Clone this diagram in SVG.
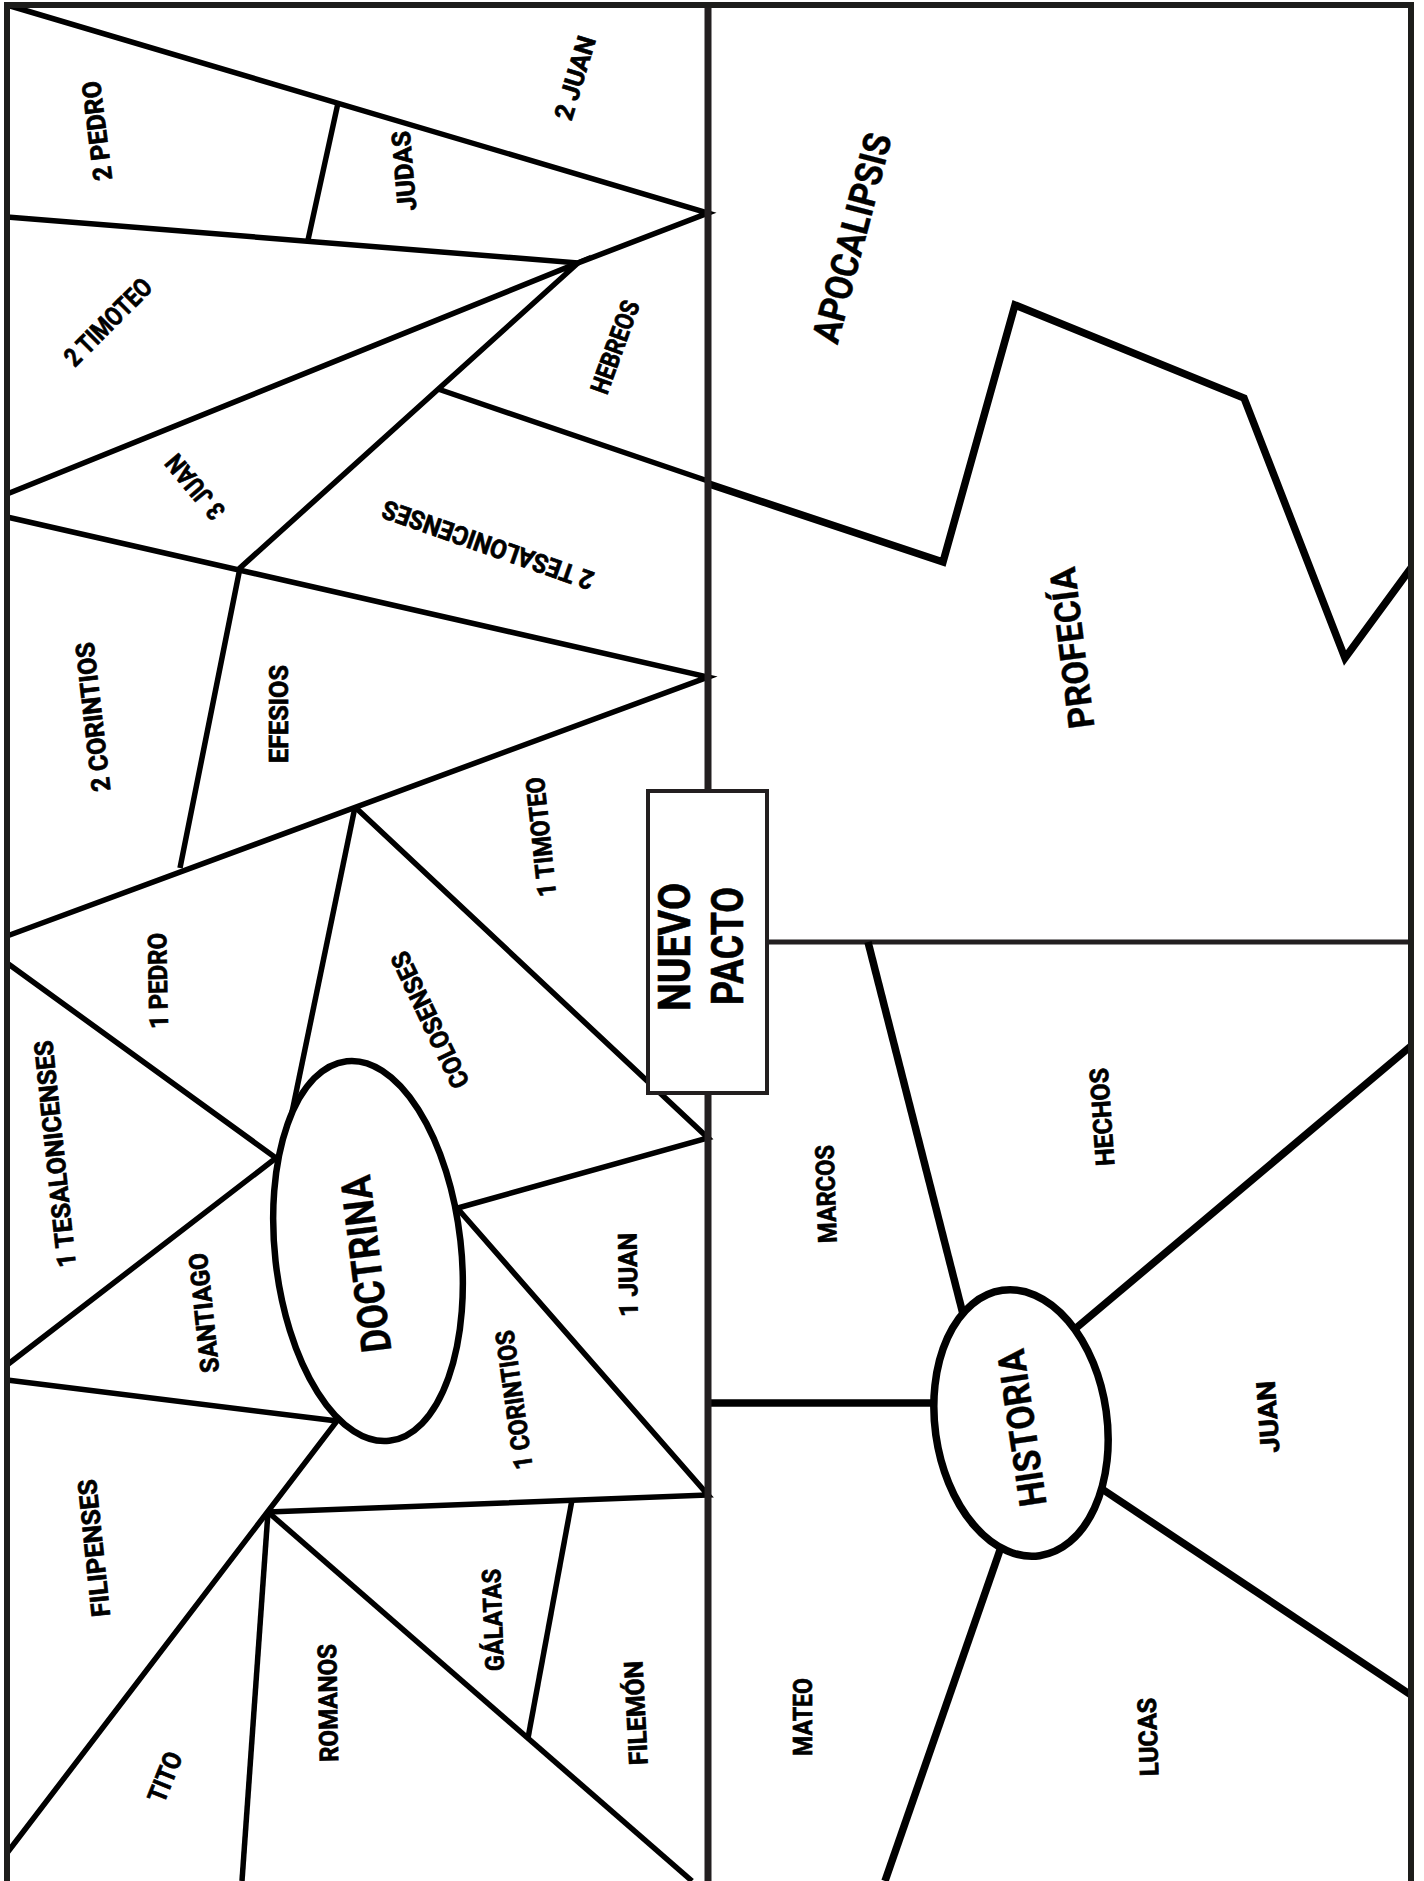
<svg xmlns="http://www.w3.org/2000/svg" width="1424" height="1881" viewBox="0 0 1424 1881">
<style>
.ln{stroke:#000;stroke-width:5.5;fill:none;stroke-linejoin:miter;stroke-miterlimit:10}
.thk{stroke:#000;stroke-width:7.5;fill:none;stroke-linejoin:miter;stroke-miterlimit:10}
.frm{stroke:#1d1d1b;stroke-width:6;fill:none}
.mid{stroke:#231f20;stroke-width:7;fill:none}
.hz{stroke:#231f20;stroke-width:5;fill:none}
.lb{font-family:Roboto,'Liberation Sans','DejaVu Sans',sans-serif;font-weight:700;font-size:26px;fill:#000;stroke:#000;stroke-width:0.7;text-anchor:middle}
.bg{font-size:38px;stroke-width:0.4}
.np{font-size:45px;stroke-width:0.6}
.ov{fill:#fff;stroke:#000}
</style>
<rect width="1424" height="1881" fill="#fff"/>
<g id="connectors">
  <polyline class="ln" points="7,5 708,213 578,263 7,217"/>
  <line class="ln" x1="338" y1="103" x2="308" y2="240"/>
  <polyline class="ln" points="7,494 578,263 240,568 180,868"/>
  <line class="ln" x1="438" y1="389" x2="708" y2="481"/>
  <polyline class="ln" points="7,517 708,677 7,936"/>
  <line class="ln" x1="355" y1="807" x2="291" y2="1117"/>
  <polyline class="ln" points="355,807 708,1138 440,1213"/>
  <polyline class="ln" points="7,963 276,1158 7,1365"/>
  <polyline class="ln" points="7,1380 337,1421 7,1853"/>
  <polyline class="ln" points="444,1193 708,1495 268,1512"/>
  <line class="ln" x1="268" y1="1512" x2="242" y2="1881"/>
  <line class="ln" x1="268" y1="1512" x2="692" y2="1881"/>
  <line class="ln" x1="572" y1="1500" x2="528" y2="1738"/>
  <polyline class="thk" points="709,484 943,562 1015,305 1244,398 1345,658 1411,568"/>
  <line class="hz" x1="767" y1="942" x2="1411" y2="942"/>
  <line class="thk" x1="868" y1="942" x2="964" y2="1318"/>
  <line class="thk" x1="1050" y1="1350" x2="1411" y2="1046"/>
  <line class="thk" x1="708" y1="1403" x2="955" y2="1403"/>
  <line class="thk" x1="1090" y1="1481" x2="1411" y2="1695"/>
  <line class="thk" x1="1008" y1="1527" x2="885" y2="1881"/>
  <line class="mid" x1="708" y1="5" x2="708" y2="1881"/>
</g>
<g id="frame">
  <path class="frm" d="M7,1881 V5 H1411 V1881"/>
</g>
<g id="node-doctrina">
  <ellipse class="ov" cx="368" cy="1251" rx="93" ry="191" stroke-width="6.5" transform="rotate(-6.4 368 1251)"/>
  <text class="lb bg" style="font-size:42px" transform="translate(366,1264) rotate(-97)" dy="0.35em" textLength="178" lengthAdjust="spacingAndGlyphs">DOCTRINA</text>
</g>
<g id="node-historia">
  <ellipse class="ov" cx="1021" cy="1423" rx="86" ry="134" stroke-width="7.5" transform="rotate(-8 1021 1423)"/>
  <text class="lb bg" transform="translate(1022,1428) rotate(-98.5)" dy="0.35em" textLength="158" lengthAdjust="spacingAndGlyphs">HISTORIA</text>
</g>
<g id="node-nuevo-pacto">
  <rect x="648" y="791" width="119" height="302" fill="#fff" stroke="#231f20" stroke-width="4"/>
  <text class="lb np" transform="translate(674,947) rotate(-90)" dy="0.35em" textLength="128" lengthAdjust="spacingAndGlyphs">NUEVO</text>
  <text class="lb np" transform="translate(727,946) rotate(-90)" dy="0.35em" textLength="118" lengthAdjust="spacingAndGlyphs">PACTO</text>
</g>
<g id="node-apocalipsis"><text class="lb bg" transform="translate(852,238) rotate(-75.3)" dy="0.35em" textLength="215" lengthAdjust="spacingAndGlyphs">APOCALIPSIS</text></g>
<g id="node-profecia"><text class="lb bg" style="font-size:36px" transform="translate(1072,648) rotate(-97)" dy="0.35em" textLength="162" lengthAdjust="spacingAndGlyphs">PROFECÍA</text></g>
<g id="node-2pedro"><text class="lb" transform="translate(97,131) rotate(-97)" dy="0.35em" textLength="100" lengthAdjust="spacingAndGlyphs">2 PEDRO</text></g>
<g id="node-judas"><text class="lb" transform="translate(404,171) rotate(-95)" dy="0.35em" textLength="80" lengthAdjust="spacingAndGlyphs">JUDAS</text></g>
<g id="node-2juan"><text class="lb" transform="translate(575,78) rotate(-73)" dy="0.35em" textLength="86" lengthAdjust="spacingAndGlyphs">2 JUAN</text></g>
<g id="node-2timoteo"><text class="lb" transform="translate(108,322) rotate(-45)" dy="0.35em" textLength="112" lengthAdjust="spacingAndGlyphs">2 TIMOTEO</text></g>
<g id="node-hebreos"><text class="lb" transform="translate(615,347) rotate(-70)" dy="0.35em" textLength="97" lengthAdjust="spacingAndGlyphs">HEBREOS</text></g>
<g id="node-3juan"><text class="lb" transform="translate(195,487) rotate(-130)" dy="0.35em" textLength="76" lengthAdjust="spacingAndGlyphs">3 JUAN</text></g>
<g id="node-2tesalonicenses"><text class="lb" transform="translate(488,545) rotate(-160.7)" dy="0.35em" textLength="222" lengthAdjust="spacingAndGlyphs">2 TESALONICENSES</text></g>
<g id="node-2corintios"><text class="lb" transform="translate(93,717) rotate(-96.5)" dy="0.35em" textLength="150" lengthAdjust="spacingAndGlyphs">2 CORINTIOS</text></g>
<g id="node-efesios"><text class="lb" transform="translate(279,714) rotate(-90)" dy="0.35em" textLength="98" lengthAdjust="spacingAndGlyphs">EFESIOS</text></g>
<g id="node-1timoteo"><text class="lb" transform="translate(541,837) rotate(-96)" dy="0.35em" textLength="120" lengthAdjust="spacingAndGlyphs">1 TIMOTEO</text></g>
<g id="node-1pedro"><text class="lb" transform="translate(158,981) rotate(-91)" dy="0.35em" textLength="96" lengthAdjust="spacingAndGlyphs">1 PEDRO</text></g>
<g id="node-colosenses"><text class="lb" transform="translate(430,1020) rotate(-115.5)" dy="0.35em" textLength="148" lengthAdjust="spacingAndGlyphs">COLOSENSES</text></g>
<g id="node-1tesalonicenses"><text class="lb" transform="translate(55,1154) rotate(-96)" dy="0.35em" textLength="228" lengthAdjust="spacingAndGlyphs">1 TESALONICENSES</text></g>
<g id="node-santiago"><text class="lb" transform="translate(204,1313) rotate(-96)" dy="0.35em" textLength="120" lengthAdjust="spacingAndGlyphs">SANTIAGO</text></g>
<g id="node-1juan"><text class="lb" transform="translate(628,1275) rotate(-91)" dy="0.35em" textLength="84" lengthAdjust="spacingAndGlyphs">1 JUAN</text></g>
<g id="node-1corintios"><text class="lb" transform="translate(514,1400) rotate(-98)" dy="0.35em" textLength="140" lengthAdjust="spacingAndGlyphs">1 CORINTIOS</text></g>
<g id="node-filipenses"><text class="lb" transform="translate(94,1548) rotate(-96)" dy="0.35em" textLength="138" lengthAdjust="spacingAndGlyphs">FILIPENSES</text></g>
<g id="node-romanos"><text class="lb" transform="translate(328,1703) rotate(-91)" dy="0.35em" textLength="118" lengthAdjust="spacingAndGlyphs">ROMANOS</text></g>
<g id="node-tito"><text class="lb" transform="translate(165,1777) rotate(-68)" dy="0.35em" textLength="52" lengthAdjust="spacingAndGlyphs">TITO</text></g>
<g id="node-galatas"><text class="lb" transform="translate(493,1620) rotate(-92)" dy="0.35em" textLength="102" lengthAdjust="spacingAndGlyphs">GÁLATAS</text></g>
<g id="node-filemon"><text class="lb" transform="translate(636,1713) rotate(-93)" dy="0.35em" textLength="104" lengthAdjust="spacingAndGlyphs">FILEMÓN</text></g>
<g id="node-mateo"><text class="lb" transform="translate(803,1717) rotate(-90)" dy="0.35em" textLength="78" lengthAdjust="spacingAndGlyphs">MATEO</text></g>
<g id="node-marcos"><text class="lb" transform="translate(826,1194) rotate(-92)" dy="0.35em" textLength="98" lengthAdjust="spacingAndGlyphs">MARCOS</text></g>
<g id="node-hechos"><text class="lb" transform="translate(1102,1117) rotate(-94)" dy="0.35em" textLength="98" lengthAdjust="spacingAndGlyphs">HECHOS</text></g>
<g id="node-juan"><text class="lb" transform="translate(1268,1417) rotate(-94)" dy="0.35em" textLength="72" lengthAdjust="spacingAndGlyphs">JUAN</text></g>
<g id="node-lucas"><text class="lb" transform="translate(1148,1737) rotate(-92)" dy="0.35em" textLength="78" lengthAdjust="spacingAndGlyphs">LUCAS</text></g>
</svg>
